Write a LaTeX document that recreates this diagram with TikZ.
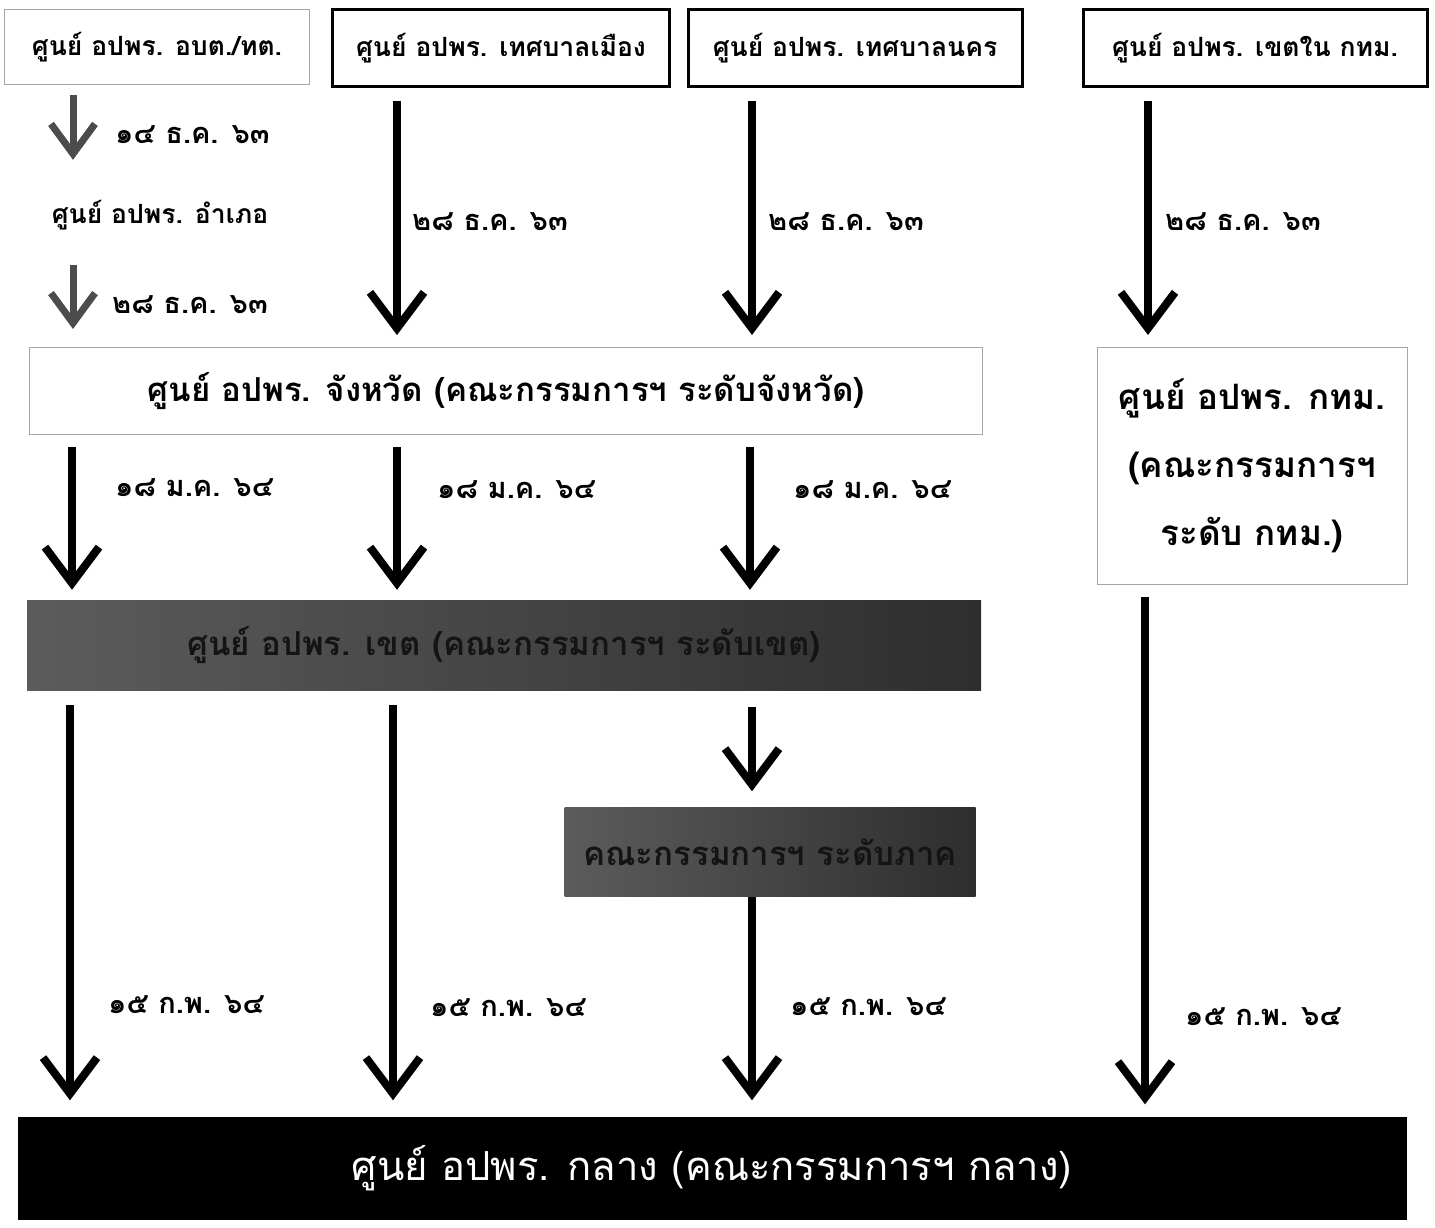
\documentclass[tikz,border=0pt]{standalone}
\usepackage{fontspec}
\usetikzlibrary{arrows.meta,calc}
\newfontfamily\thai[Script=Thai]{Loma}
\tikzset{
  x=1pt,y=-1pt,
  box/.style={draw=black!35,line width=1pt,fill=white,inner sep=0pt,align=center,font=\thai\bfseries},
  boxk/.style={draw=black,line width=3pt,fill=white,inner sep=0pt,align=center,font=\thai\bfseries\fontsize{26.5}{32}\selectfont},
  darkbox/.style={draw=none,inner sep=0pt,align=center,left color=black!64,right color=black!82,text=black!92,font=\thai\bfseries},
  lbl/.style={anchor=west,inner sep=0pt,font=\thai\bfseries\fontsize{29}{32}\selectfont},
  arr/.style={line width=8pt,-{Straight Barb[length=36pt,width=54pt]}},
  sarr/.style={line width=7pt,draw=black!70,-{Straight Barb[length=30pt,width=44pt]}},
}
\begin{document}
\begin{tikzpicture}
\useasboundingbox (0,0) rectangle (1435,1227);
\fill[white] (0,0) rectangle (1435,1227);
% columns
\coordinate (x1) at (73,0);
\coordinate (x2) at (397,0);
\coordinate (x3) at (752,0);
\coordinate (x4) at (1148,0);
% top boxes
\node[box,minimum width=305pt,minimum height=75pt,font=\thai\bfseries\fontsize{26.5}{32}\selectfont] (b1) at (157,47) {ศูนย์ อปพร. อบต./ทต.};
\node[boxk,minimum width=337pt,minimum height=77pt] (b2) at (501,48) {ศูนย์ อปพร. เทศบาลเมือง};
\node[boxk,minimum width=334pt,minimum height=77pt] (b3) at (855,48) {ศูนย์ อปพร. เทศบาลนคร};
\node[boxk,minimum width=344pt,minimum height=77pt] (b4) at (1255,48) {ศูนย์ อปพร. เขตใน กทม.};
% amphoe
\node[inner sep=0pt,minimum height=40pt,font=\thai\bfseries\fontsize{26.5}{32}\selectfont] (amp) at (160,215) {ศูนย์ อปพร. อำเภอ};
% province & bkk
\node[box,minimum width=953pt,minimum height=87pt,font=\thai\bfseries\fontsize{33}{38}\selectfont] (prov) at (506,391) {ศูนย์ อปพร. จังหวัด (คณะกรรมการฯ ระดับจังหวัด)};
\node[box,minimum width=310pt,minimum height=237pt,font=\thai\bfseries\fontsize{35}{68}\selectfont] (bkk) at (1252,466) {ศูนย์ อปพร. กทม.\\(คณะกรรมการฯ\\ระดับ กทม.)};
% region
\node[darkbox,minimum width=954pt,minimum height=90pt,font=\thai\bfseries\fontsize{33}{38}\selectfont] (reg) at (504,645) {ศูนย์ อปพร. เขต (คณะกรรมการฯ ระดับเขต)};
\node[darkbox,minimum width=411pt,minimum height=89pt,font=\thai\bfseries\fontsize{33}{38}\selectfont] (phak) at (770,852) {คณะกรรมการฯ ระดับภาค};
% central
\node[fill=black,inner sep=0pt,minimum width=1389pt,minimum height=103pt,text=white,font=\thai\fontsize{40}{46}\selectfont] (cen) at (712,1168) {ศูนย์ อปพร. กลาง (คณะกรรมการฯ กลาง)};
% labels
\node[lbl] (l1) at (115,135) {๑๔ ธ.ค. ๖๓};
\node[lbl] (l2) at (112,305) {๒๘ ธ.ค. ๖๓};
\node[lbl] (l3) at (412,222) {๒๘ ธ.ค. ๖๓};
\node[lbl] (l4) at (768,222) {๒๘ ธ.ค. ๖๓};
\node[lbl] (l5) at (1165,222) {๒๘ ธ.ค. ๖๓};
\node[lbl] (m1) at (115,488) {๑๘ ม.ค. ๖๔};
\node[lbl] (m2) at (437,490) {๑๘ ม.ค. ๖๔};
\node[lbl] (m3) at (793,490) {๑๘ ม.ค. ๖๔};
\node[lbl] (f1) at (108,1005) {๑๕ ก.พ. ๖๔};
\node[lbl] (f2) at (430,1008) {๑๕ ก.พ. ๖๔};
\node[lbl] (f3) at (790,1007) {๑๕ ก.พ. ๖๔};
\node[lbl] (f4) at (1185,1017) {๑๕ ก.พ. ๖๔};
% arrows column 1 (small)
\draw[sarr,shorten <=10pt,shorten >=35pt] (b1.south -| x1) -- (amp.north -| x1);
\draw[sarr,shorten <=30pt,shorten >=18pt] (amp.south -| x1) -- (prov.north -| x1);
% top arrows
\draw[arr,shorten <=13pt,shorten >=12pt] (b2.south -| x2) -- (prov.north -| x2);
\draw[arr,shorten <=13pt,shorten >=12pt] (b3.south -| x3) -- (prov.north -| x3);
\draw[arr,shorten <=13pt,shorten >=12pt] (b4.south -| x4) -- (bkk.north -| x4);
% row 2
\draw[arr,shorten <=12pt,shorten >=10pt] ($(prov.south -| x1)+(-1,0)$) -- ($(reg.north -| x1)+(-1,0)$);
\draw[arr,shorten <=12pt,shorten >=10pt] (prov.south -| x2) -- (reg.north -| x2);
\draw[arr,shorten <=12pt,shorten >=10pt] ($(prov.south -| x3)+(-2,0)$) -- ($(reg.north -| x3)+(-2,0)$);
% row 3
\draw[arr,shorten <=15pt,shorten >=16pt] ($(reg.south -| x1)+(-3,0)$) -- ($(cen.north -| x1)+(-3,0)$);
\draw[arr,shorten <=15pt,shorten >=16pt] ($(reg.south -| x2)+(-4,0)$) -- ($(cen.north -| x2)+(-4,0)$);
\draw[arr,shorten <=17pt,shorten >=16pt] (reg.south -| x3) -- (phak.north -| x3);
\draw[arr,shorten <=0pt,shorten >=16pt] (phak.south -| x3) -- (cen.north -| x3);
\draw[arr,shorten <=12pt,shorten >=12pt] ($(bkk.south -| x4)+(-3,0)$) -- ($(cen.north -| x4)+(-3,0)$);
\end{tikzpicture}
\end{document}
